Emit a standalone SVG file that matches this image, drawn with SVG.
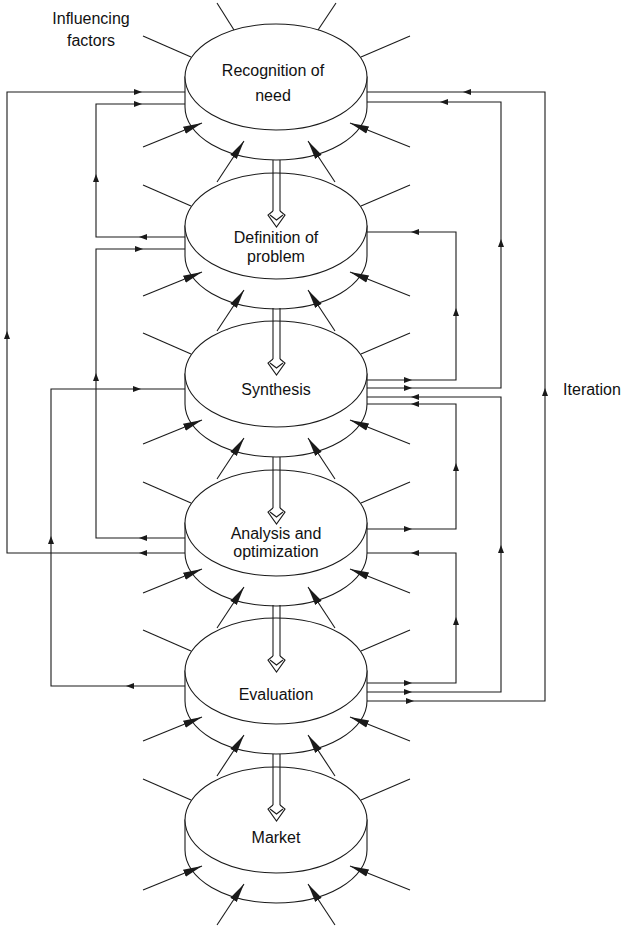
<svg xmlns="http://www.w3.org/2000/svg" xmlns:xlink="http://www.w3.org/1999/xlink" width="625" height="927" viewBox="0 0 625 927">
<style>
.ln{fill:none;stroke:#1a1a1a;stroke-width:1.1}
.dk{fill:#fff;stroke:#1a1a1a;stroke-width:1.1}
.ah{fill:#1a1a1a;stroke:none}
text{font-family:"Liberation Sans",Arial,sans-serif;font-size:16px;fill:#111;text-anchor:middle}
</style>
<defs>
<marker id="big" markerUnits="userSpaceOnUse" markerWidth="22" markerHeight="10" viewBox="0 -5 22 10" refX="19" refY="0" orient="auto">
<path d="M0,-3.8 L19,0 L0,3.8 Z" class="ah"/>
</marker>
<path id="sa" class="ah" d="M4,0 L-4,-3 L-4,3 Z"/>
<g id="disk">
<path class="dk" d="M185,0 L185,30 A91,53 0 0 0 367,30 L367,0 Z"/>
<ellipse class="dk" cx="276" cy="0" rx="91" ry="53"/>
</g>
<g id="fac">
<line class="ln" x1="143" y1="-41" x2="191" y2="-20"/>
<line class="ln" x1="410" y1="-41" x2="361" y2="-20"/>
<line class="ln" x1="143" y1="70" x2="202" y2="46" marker-end="url(#big)"/>
<line class="ln" x1="217" y1="105" x2="244" y2="64" marker-end="url(#big)"/>
<line class="ln" x1="335" y1="105" x2="308" y2="64" marker-end="url(#big)"/>
<line class="ln" x1="410" y1="70" x2="350" y2="46" marker-end="url(#big)"/>
</g>
<g id="dbl">
<line class="ln" x1="273" y1="83" x2="273" y2="134"/>
<line class="ln" x1="280" y1="83" x2="280" y2="134"/>
<path class="dk" d="M273,134 L268,138 L276.5,150 L285,138 L280,134"/>
<path class="ln" d="M270,138 L276.5,143 L283,138"/>
</g>
</defs>

<g id="disk-recognition">
<use xlink:href="#disk" transform="translate(0,77)"/>
<text x="273" y="76">Recognition of</text>
<text x="273" y="101">need</text>
</g>
<g id="disk-definition">
<use xlink:href="#disk" transform="translate(0,226)"/>
<text x="276" y="243">Definition of</text>
<text x="276" y="262">problem</text>
</g>
<g id="disk-synthesis">
<use xlink:href="#disk" transform="translate(0,374)"/>
<text x="276" y="395">Synthesis</text>
</g>
<g id="disk-analysis">
<use xlink:href="#disk" transform="translate(0,523)"/>
<text x="276" y="539">Analysis and</text>
<text x="276" y="557">optimization</text>
</g>
<g id="disk-evaluation">
<use xlink:href="#disk" transform="translate(0,671)"/>
<text x="276" y="700">Evaluation</text>
</g>
<g id="disk-market">
<use xlink:href="#disk" transform="translate(0,820)"/>
<text x="276" y="843">Market</text>
</g>

<g id="influencing-factors">
<line class="ln" x1="217" y1="3" x2="234" y2="30"/>
<line class="ln" x1="336" y1="3" x2="318" y2="30"/>
<use xlink:href="#fac" transform="translate(0,77)"/>
<use xlink:href="#fac" transform="translate(0,226)"/>
<use xlink:href="#fac" transform="translate(0,374)"/>
<use xlink:href="#fac" transform="translate(0,523)"/>
<use xlink:href="#fac" transform="translate(0,671)"/>
<use xlink:href="#fac" transform="translate(0,820)"/>
<text x="91" y="24">Influencing</text>
<text x="91" y="46">factors</text>
</g>

<g id="connectors">
<use xlink:href="#dbl" transform="translate(0,77)"/>
<use xlink:href="#dbl" transform="translate(0,225)"/>
<use xlink:href="#dbl" transform="translate(0,374)"/>
<use xlink:href="#dbl" transform="translate(0,522)"/>
<use xlink:href="#dbl" transform="translate(0,671)"/>

<path class="ln" d="M185,553 H7 V92 H185"/>
<use xlink:href="#sa" transform="translate(143,553) rotate(180)"/>
<use xlink:href="#sa" transform="translate(7,335) rotate(-90)"/>
<use xlink:href="#sa" transform="translate(138,92)"/>

<path class="ln" d="M185,237 H96 V104 H185"/>
<use xlink:href="#sa" transform="translate(143,237) rotate(180)"/>
<use xlink:href="#sa" transform="translate(96,178) rotate(-90)"/>
<use xlink:href="#sa" transform="translate(138,104)"/>

<path class="ln" d="M185,538 H96 V249 H185"/>
<use xlink:href="#sa" transform="translate(143,538) rotate(180)"/>
<use xlink:href="#sa" transform="translate(96,377) rotate(-90)"/>
<use xlink:href="#sa" transform="translate(139,249)"/>

<path class="ln" d="M185,686 H51 V389 H185"/>
<use xlink:href="#sa" transform="translate(130,686) rotate(180)"/>
<use xlink:href="#sa" transform="translate(51,540) rotate(-90)"/>
<use xlink:href="#sa" transform="translate(137,389)"/>

<path class="ln" d="M367,701 H545 V92 H367"/>
<use xlink:href="#sa" transform="translate(410,701)"/>
<use xlink:href="#sa" transform="translate(545,392) rotate(-90)"/>
<use xlink:href="#sa" transform="translate(467,92) rotate(180)"/>

<path class="ln" d="M367,388 H501 V102 H367"/>
<use xlink:href="#sa" transform="translate(408,388)"/>
<use xlink:href="#sa" transform="translate(501,243) rotate(-90)"/>
<use xlink:href="#sa" transform="translate(444,102) rotate(180)"/>

<path class="ln" d="M367,692 H501 V397 H367"/>
<use xlink:href="#sa" transform="translate(408,692)"/>
<use xlink:href="#sa" transform="translate(501,549) rotate(-90)"/>
<use xlink:href="#sa" transform="translate(415,397) rotate(180)"/>

<path class="ln" d="M367,380 H456 V232 H367"/>
<use xlink:href="#sa" transform="translate(408,380)"/>
<use xlink:href="#sa" transform="translate(456,312) rotate(-90)"/>
<use xlink:href="#sa" transform="translate(415,232) rotate(180)"/>

<path class="ln" d="M367,529 H456 V404 H367"/>
<use xlink:href="#sa" transform="translate(408,529)"/>
<use xlink:href="#sa" transform="translate(456,467) rotate(-90)"/>
<use xlink:href="#sa" transform="translate(415,404) rotate(180)"/>

<path class="ln" d="M367,683 H456 V553 H367"/>
<use xlink:href="#sa" transform="translate(408,683)"/>
<use xlink:href="#sa" transform="translate(456,621) rotate(-90)"/>
<use xlink:href="#sa" transform="translate(415,553) rotate(180)"/>

<text x="592" y="395">Iteration</text>
</g>
</svg>
